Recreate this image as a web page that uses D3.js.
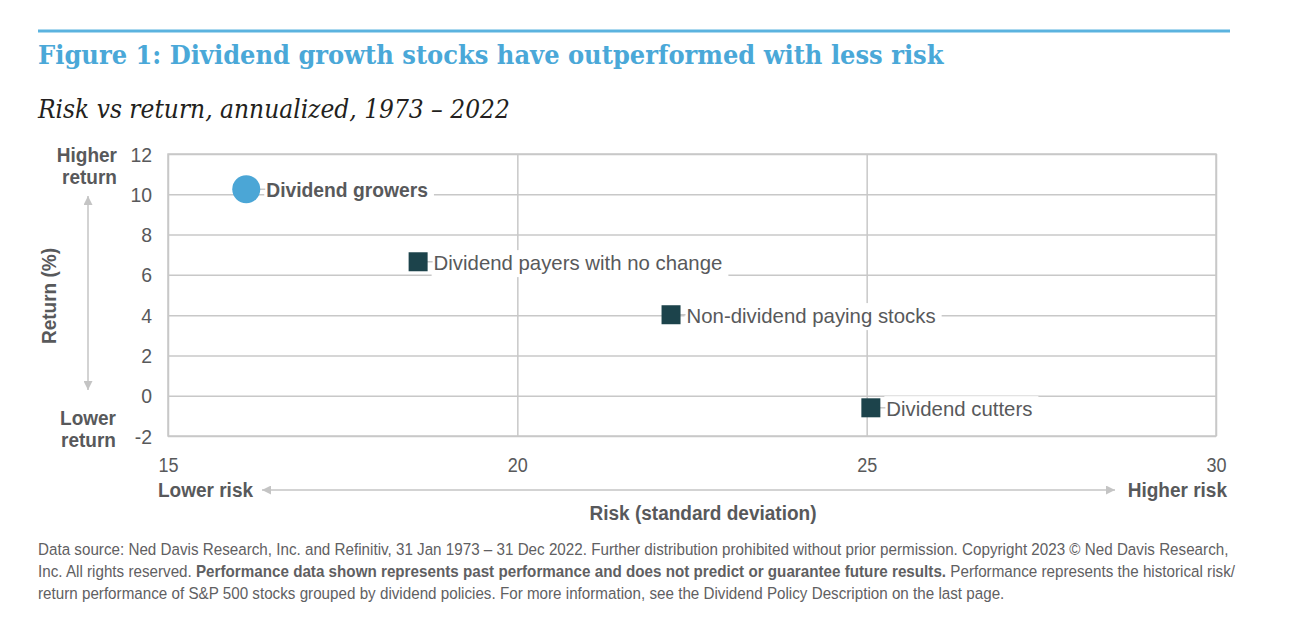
<!DOCTYPE html>
<html>
<head>
<meta charset="utf-8">
<script src="https://cdn.jsdelivr.net/npm/d3@7"></script>
<style>
  body { margin: 0; background: #fff; }
  svg text { fill: #58595b; }
  .tick text { font-family: "Liberation Sans", Arial, sans-serif; font-size: 20px; fill: #58595b; }
  .bold { font-family: "Liberation Sans", Arial, sans-serif; font-weight: bold; font-size: 20px; }
  .lbl { font-family: "Liberation Sans", Arial, sans-serif; font-size: 21px; }
  .foot { font-family: "Liberation Sans", Arial, sans-serif; font-size: 16.5px; fill: #5f6062; }
</style>
</head>
<body>
<svg width="1290" height="624"></svg>
<script>
const groups = ["Dividend growers", "Dividend payers with no change", "Non-dividend paying stocks", "Dividend cutters"];
const risk = [16.12, 18.58, 22.2, 25.06];
const returns = [10.25, 6.65, 4.02, -0.6];
const xTicks = [15, 20, 25, 30];
const yTicks = [-2, 0, 2, 4, 6, 8, 10, 12];
const footLines = [
  [["Data source: Ned Davis Research, Inc. and Refinitiv, 31 Jan 1973 \u2013 31 Dec 2022. Further distribution prohibited without prior permission. Copyright 2023 \u00a9 Ned Davis Research,", false]],
  [["Inc. All rights reserved. ", false], ["Performance data shown represents past performance and does not predict or guarantee future results.", true], [" Performance represents the historical risk/", false]],
  [["return performance of S&P 500 stocks grouped by dividend policies. For more information, see the Dividend Policy Description on the last page.", false]]
];

const svg = d3.select("svg");
const plot = { left: 168, right: 1216, top: 154, bottom: 436 };
const gridColor = "#c8c8c8";
const navy = "#1c434b";
const blue = "#4ba6d6";

const x = d3.scaleLinear().domain([15, 30]).range([plot.left, plot.right]);
const y = d3.scaleLinear().domain([-2, 12]).range([plot.bottom, plot.top]);

// squeeze glyphs horizontally, to look like the condensed face of the original
const condense = (sel, f) => sel.each(function () {
  const len = this.getComputedTextLength();
  d3.select(this).attr("textLength", len * f).attr("lengthAdjust", "spacingAndGlyphs");
});

const fitText = (sel, width) => {
  const len = sel.node().getComputedTextLength();
  const fs = parseFloat(sel.attr("font-size"));
  sel.attr("font-size", fs * width / len);
};

// header
svg.append("line")
  .attr("x1", 38).attr("x2", 1230).attr("y1", 31).attr("y2", 31)
  .attr("stroke", "#5bb3df").attr("stroke-width", 3);

svg.append("text")
  .attr("x", 38).attr("y", 64)
  .attr("font-family", "DejaVu Serif Condensed, DejaVu Serif, serif").attr("font-weight", "bold")
  .attr("font-size", 25).style("fill", "#4aa8d8")
  .text("Figure 1: Dividend growth stocks have outperformed with less risk")
  .call(fitText, 906);

svg.append("text")
  .attr("x", 38).attr("y", 118)
  .attr("font-family", "DejaVu Serif Condensed, DejaVu Serif, serif").attr("font-style", "italic")
  .attr("font-size", 25).style("fill", "#231f20")
  .text("Risk vs return, annualized, 1973 \u2013 2022")
  .call(fitText, 472);

// grid
const g = svg.append("g");
g.append("g")
  .attr("transform", `translate(${plot.left},0)`)
  .call(d3.axisLeft(y).tickValues(yTicks).tickSize(-(plot.right - plot.left)).tickFormat(""))
  .call(s => s.select(".domain").remove())
  .selectAll("line").attr("stroke", gridColor).attr("stroke-width", 1.5);

g.append("g")
  .attr("transform", `translate(0,${plot.bottom})`)
  .call(d3.axisBottom(x).tickValues(xTicks).tickSize(-(plot.bottom - plot.top)).tickFormat(""))
  .call(s => s.select(".domain").remove())
  .selectAll("line").attr("stroke", gridColor).attr("stroke-width", 1.5);

g.append("rect")
  .attr("x", plot.left).attr("y", plot.top)
  .attr("width", plot.right - plot.left).attr("height", plot.bottom - plot.top)
  .attr("fill", "none").attr("stroke", gridColor).attr("stroke-width", 1.5);

// tick labels
svg.append("g")
  .attr("transform", `translate(${plot.left - 16},0)`)
  .call(d3.axisLeft(y).tickValues(yTicks).tickSize(0).tickPadding(0).tickFormat(d => String(d)))
  .call(s => s.select(".domain").remove())
  .selectAll("text").attr("dy", "0.35em").call(condense, 0.97);

svg.append("g")
  .attr("transform", `translate(0,${plot.bottom + 22})`)
  .call(d3.axisBottom(x).tickValues(xTicks).tickSize(0).tickPadding(0).tickFormat(d => String(d)))
  .call(s => s.select(".domain").remove())
  .selectAll("text").call(condense, 0.9);

// axis titles and arrows
svg.append("defs").append("marker")
  .attr("id", "arr").attr("viewBox", "0 0 10 10")
  .attr("refX", 10).attr("refY", 5)
  .attr("markerWidth", 11).attr("markerHeight", 9)
  .attr("markerUnits", "userSpaceOnUse")
  .attr("orient", "auto-start-reverse")
  .append("path").attr("d", "M0,0L10,5L0,10Z").attr("fill", "#c4c4c4");

svg.append("line")
  .attr("x1", 88).attr("x2", 88).attr("y1", 196).attr("y2", 390)
  .attr("stroke", "#c4c4c4").attr("stroke-width", 1.5)
  .attr("marker-start", "url(#arr)").attr("marker-end", "url(#arr)");

svg.append("line")
  .attr("x1", 262).attr("x2", 1115).attr("y1", 490).attr("y2", 490)
  .attr("stroke", "#c4c4c4").attr("stroke-width", 1.5)
  .attr("marker-start", "url(#arr)").attr("marker-end", "url(#arr)");

const boldText = (tx, ty, anchor, lines) => {
  const t = svg.append("text").attr("class", "bold")
    .attr("x", tx).attr("y", ty).attr("text-anchor", anchor);
  lines.forEach((l, i) => t.append("tspan").attr("x", tx).attr("dy", i ? 22 : 0).text(l));
  t.selectAll("tspan").call(condense, 0.95);
  return t;
};
boldText(117, 162, "end", ["Higher", "return"]);
boldText(116, 425, "end", ["Lower", "return"]);
boldText(158, 497, "start", ["Lower risk"]);
boldText(1227, 497, "end", ["Higher risk"]);
boldText(703, 520, "middle", ["Risk (standard deviation)"]);

svg.append("text").attr("class", "bold")
  .attr("transform", "translate(56,296) rotate(-90)")
  .attr("text-anchor", "middle")
  .text("Return (%)")
  .call(condense, 0.95);

// points and labels
const pts = svg.append("g");
groups.forEach((name, i) => {
  const cx = x(risk[i]), cy = y(returns[i]);
  const half = i === 0 ? 14 : 9.5;
  const tx = cx + half + 6;
  const label = pts.append("text")
    .attr("class", "lbl")
    .attr("x", tx).attr("y", cy + 1).attr("dy", "0.35em")
    .style("font-weight", i === 0 ? "bold" : "normal")
    .style("font-size", i === 0 ? "20.5px" : null)
    .text(name)
    .call(condense, i === 0 ? 0.94 : 0.97);
  const bb = label.node().getBBox();
  pts.insert("rect", "text")
    .attr("x", bb.x - 2).attr("y", bb.y - 1)
    .attr("width", bb.width + 8).attr("height", bb.height + 4)
    .attr("fill", "#fff");
  pts.append("line")
    .attr("x1", cx).attr("x2", tx - 1).attr("y1", cy).attr("y2", cy)
    .attr("stroke", gridColor).attr("stroke-width", 1.5);
  if (i === 0) {
    pts.append("circle").attr("cx", cx).attr("cy", cy).attr("r", half).attr("fill", blue);
  } else {
    pts.append("rect")
      .attr("x", cx - half).attr("y", cy - half)
      .attr("width", half * 2).attr("height", half * 2)
      .attr("fill", navy);
  }
});

// footer: squeezed with one horizontal scale so the first line ends at the right margin
const foot = svg.append("g");
footLines.forEach((parts, i) => {
  const t = foot.append("text").attr("class", "foot").attr("x", 0).attr("y", i * 22);
  parts.forEach(([s, b]) => t.append("tspan").style("font-weight", b ? "bold" : "normal").text(s));
});
const firstLen = foot.select("text").node().getComputedTextLength();
foot.attr("transform", `translate(38,555) scale(${1191 / firstLen},1)`);
</script>
</body>
</html>
